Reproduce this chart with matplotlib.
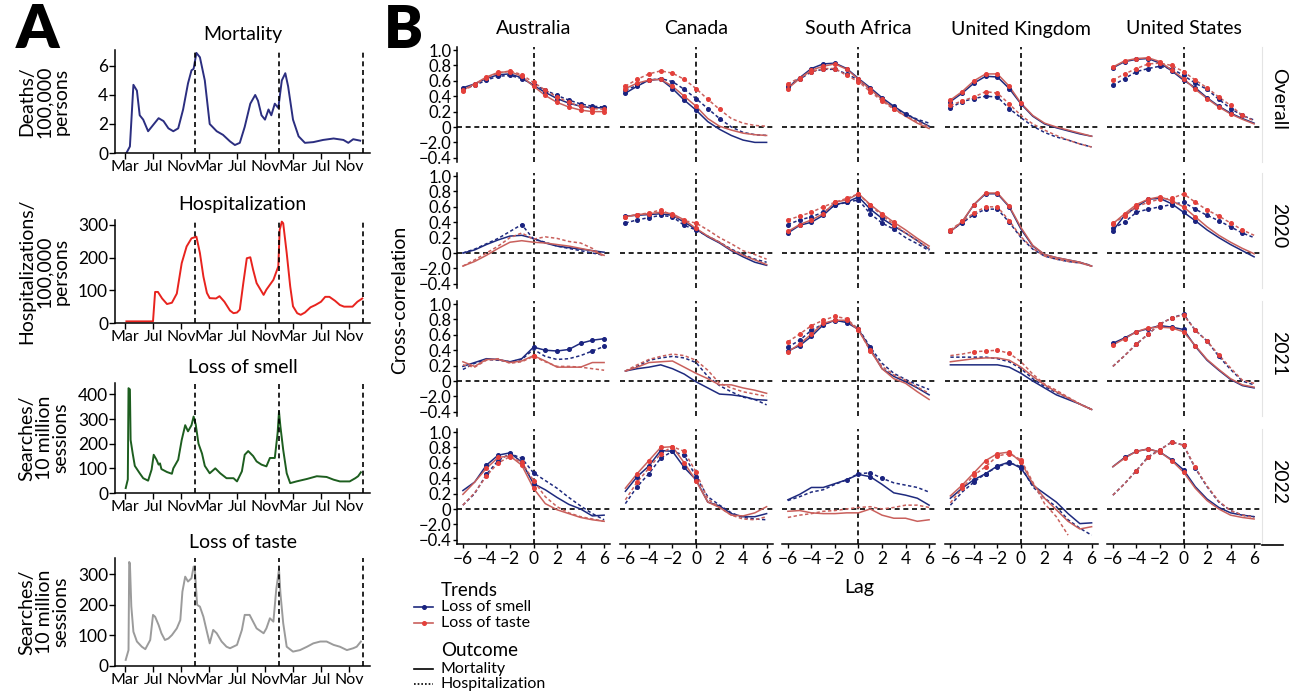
import numpy as np
import matplotlib
matplotlib.use("Agg")
import matplotlib.pyplot as plt
from matplotlib.lines import Line2D

plt.rcParams['font.family'] = ['Lato', 'DejaVu Sans']

W, H = 1294, 691

# ---------------- panel A data (x = months since Jan 2020) ----------------
mort_month = [2.2, 2.7, 3.2, 3.7, 4.1, 4.6, 5.3, 5.8, 6.8, 7.5, 8.2, 8.9, 9.6, 10.3, 11.0, 11.5, 11.8,
              12.2, 12.7, 13.4, 14.1, 15.1, 16.0, 17.0, 17.7, 18.4, 19.1, 19.9, 20.6, 21.0, 21.5, 22.0,
              22.5, 22.9, 23.4, 23.9, 24.4, 24.9, 25.3, 26.0, 26.8, 27.7, 28.9, 30.3, 31.8, 33.2, 33.9,
              34.6, 35.6]
mort_val = [0, 0.45, 4.7, 4.3, 2.6, 2.3, 1.5, 1.8, 2.4, 2.2, 1.7, 1.5, 1.7, 3.0, 4.8, 5.7, 5.8,
            6.9, 6.6, 5.0, 2.0, 1.5, 1.25, 0.8, 0.55, 0.7, 1.8, 3.4, 4.0, 3.6, 2.6, 2.3,
            3.0, 2.6, 3.4, 3.1, 5.0, 5.5, 4.6, 2.3, 1.15, 0.7, 0.75, 0.9, 1.0, 0.9, 0.7,
            0.95, 0.85]

hosp_month = [2.2, 6.0, 6.3, 6.7, 7.3, 8.0, 8.7, 9.4, 10.1, 10.8, 11.5, 12.2, 12.7, 13.2, 13.7, 14.1,
              15.0, 15.5, 16.2, 17.0, 17.5, 18.0, 18.4, 18.9, 19.4, 19.9, 20.3, 20.8, 21.8, 22.2, 23.2,
              23.9, 24.1, 24.4, 24.6, 25.1, 25.6, 26.0, 26.6, 27.1, 27.7, 28.5, 29.2, 30.0, 30.6, 31.2,
              32.0, 32.7, 33.3, 34.5, 35.2, 35.9]
hosp_val = [5, 5, 95, 95, 75, 58, 62, 90, 183, 234, 259, 264, 214, 142, 92, 76,
            75, 82, 65, 38, 30, 32, 41, 122, 198, 201, 163, 122, 86, 102, 132,
            173, 285, 310, 305, 214, 112, 51, 30, 25, 32, 48, 55, 65, 80, 80,
            68, 55, 50, 50, 65, 75]

smell_month = [2.1, 2.4, 2.5, 2.7, 2.8, 3.1, 3.4, 4.1, 4.6, 5.3, 5.8, 6.1, 6.5, 6.8, 7.0, 7.2, 8.0,
               8.7, 8.9, 9.6, 10.1, 10.6, 11.0, 11.5, 11.8, 12.1, 12.5, 13.0, 13.4, 14.1, 14.9, 15.6,
               16.5, 17.5, 18.0, 18.7, 19.1, 19.6, 20.3, 20.8, 21.5, 22.2, 22.7, 23.4, 23.8, 24.0,
               24.2, 24.6, 25.1, 25.6, 26.5, 28.0, 29.4, 30.8, 31.8, 32.7, 34.1, 34.9, 35.3, 35.7]
smell_val = [20, 55, 425, 420, 215, 160, 110, 80, 60, 50, 95, 155, 135, 115, 120, 97, 85,
             78, 100, 135, 215, 275, 250, 275, 310, 278, 200, 160, 110, 80, 100, 80,
             60, 60, 47, 88, 155, 170, 150, 128, 115, 108, 142, 142, 243, 330,
             270, 175, 80, 40, 47, 57, 68, 65, 54, 47, 47, 60, 68, 84]

taste_month = [2.1, 2.5, 2.6, 2.7, 2.9, 3.2, 3.7, 4.4, 4.9, 5.6, 6.0, 6.3, 6.8, 7.2, 7.7, 8.2, 8.7,
               9.4, 9.9, 10.2, 10.6, 11.0, 11.5, 11.8, 12.0, 12.3, 12.7, 13.2, 13.7, 14.1, 14.6, 15.1,
               15.8, 16.5, 17.0, 18.0, 18.7, 19.1, 19.8, 20.3, 20.8, 21.8, 22.2, 22.7, 23.2, 23.6,
               24.0, 24.2, 24.6, 25.1, 26.0, 27.0, 28.0, 28.9, 29.9, 30.8, 31.8, 32.7, 33.7, 34.6,
               35.1, 35.7]
taste_val = [20, 52, 340, 335, 195, 112, 80, 63, 55, 85, 167, 161, 134, 107, 85, 90, 101,
             123, 150, 243, 292, 276, 287, 325, 309, 200, 194, 161, 112, 74, 118, 107,
             80, 63, 58, 69, 118, 167, 167, 145, 123, 107, 123, 156, 145, 249,
             316, 238, 140, 63, 47, 52, 63, 74, 80, 80, 69, 63, 52, 58,
             63, 80]

month_ticks = [2, 6, 10, 14, 18, 22, 26, 30, 34]
month_labels = ["Mar", "Jul", "Nov"] * 3
year_breaks = [12, 24, 36]

# ---------------- panel B data ----------------
countries = ["Australia", "Canada", "South Africa", "United Kingdom", "United States"]
periods = ["Overall", "2020", "2021", "2022"]
lags = [-6, -5, -4, -3, -2, -1, 0, 1, 2, 3, 4, 5, 6]
nan = np.nan

# [period][country] -> 13 values at lags -6..6
smell_mort = [
    [[0.51, 0.56, 0.63, 0.68, 0.69, 0.64, 0.54, 0.45, 0.37, 0.31, 0.27, 0.25, 0.25],
     [0.44, 0.53, 0.61, 0.62, 0.50, 0.35, 0.22, 0.07, -0.03, -0.11, -0.17, -0.20, -0.20],
     [0.51, 0.64, 0.76, 0.82, 0.83, 0.76, 0.63, 0.51, 0.38, 0.27, 0.17, 0.09, 0.01],
     [0.33, 0.44, 0.57, 0.66, 0.65, 0.50, 0.30, 0.14, 0.04, -0.01, -0.05, -0.09, -0.12],
     [0.77, 0.85, 0.88, 0.89, 0.83, 0.73, 0.61, 0.51, 0.38, 0.27, 0.18, 0.11, 0.05]],
    [[0.00, 0.04, 0.11, 0.17, 0.22, 0.23, 0.19, 0.13, 0.09, 0.07, 0.05, 0.03, 0.01],
     [0.48, 0.49, 0.50, 0.51, 0.49, 0.40, 0.31, 0.21, 0.13, 0.03, -0.05, -0.12, -0.16],
     [0.26, 0.36, 0.40, 0.49, 0.63, 0.66, 0.73, 0.57, 0.45, 0.35, 0.26, 0.16, 0.05],
     [0.28, 0.40, 0.63, 0.77, 0.77, 0.60, 0.31, 0.09, -0.02, -0.06, -0.09, -0.12, -0.17],
     [0.29, 0.49, 0.60, 0.70, 0.71, 0.64, 0.53, 0.42, 0.30, 0.20, 0.11, 0.03, -0.05]],
    [[0.19, 0.24, 0.29, 0.28, 0.25, 0.29, 0.44, 0.40, 0.39, 0.41, 0.49, 0.53, 0.55],
     [0.13, 0.16, 0.18, 0.21, 0.16, 0.09, -0.01, -0.09, -0.17, -0.18, -0.20, -0.24, -0.25],
     [0.39, 0.46, 0.58, 0.73, 0.79, 0.76, 0.67, 0.42, 0.16, 0.06, -0.01, -0.09, -0.18],
     [0.21, 0.21, 0.21, 0.21, 0.21, 0.18, 0.10, 0.00, -0.09, -0.18, -0.24, -0.30, -0.37],
     [0.49, 0.56, 0.64, 0.68, 0.72, 0.70, 0.67, 0.45, 0.27, 0.14, 0.02, -0.06, -0.09]],
    [[0.24, 0.35, 0.57, 0.70, 0.73, 0.61, 0.33, 0.25, 0.15, 0.06, 0.00, -0.09, -0.08],
     [0.23, 0.42, 0.56, 0.76, 0.75, 0.54, 0.38, 0.09, 0.04, -0.06, -0.10, -0.10, -0.06],
     [0.12, 0.19, 0.28, 0.28, 0.33, 0.38, 0.45, 0.42, 0.32, 0.21, 0.18, 0.14, 0.05],
     [0.14, 0.27, 0.38, 0.46, 0.56, 0.61, 0.53, 0.31, 0.20, 0.09, -0.06, -0.19, -0.18],
     [0.55, 0.67, 0.75, 0.78, 0.74, 0.64, 0.51, 0.29, 0.13, 0.02, -0.05, -0.08, -0.10]],
]
smell_hosp = [
    [[0.50, 0.54, 0.61, 0.66, 0.67, 0.63, 0.55, 0.48, 0.41, 0.35, 0.30, 0.27, 0.26],
     [0.48, 0.54, 0.61, 0.63, 0.59, 0.49, 0.37, 0.24, 0.11, 0.00, -0.07, -0.10, -0.11],
     [0.53, 0.62, 0.72, 0.75, 0.75, 0.69, 0.61, 0.49, 0.36, 0.25, 0.17, 0.10, 0.05],
     [0.25, 0.33, 0.37, 0.40, 0.39, 0.24, 0.12, 0.01, -0.07, -0.13, -0.17, -0.22, -0.26],
     [0.54, 0.63, 0.72, 0.76, 0.79, 0.76, 0.67, 0.57, 0.49, 0.36, 0.24, 0.15, 0.09]],
    [[0.00, 0.05, 0.12, 0.19, 0.28, 0.37, 0.18, 0.14, 0.09, 0.06, 0.03, 0.00, -0.03],
     [0.39, 0.43, 0.46, 0.49, 0.47, 0.36, 0.30, 0.22, 0.14, 0.05, -0.02, -0.08, -0.12],
     [0.37, 0.43, 0.47, 0.53, 0.62, 0.66, 0.69, 0.51, 0.39, 0.31, 0.20, 0.12, 0.03],
     [0.29, 0.39, 0.50, 0.57, 0.57, 0.40, 0.20, 0.05, -0.04, -0.08, -0.11, -0.13, -0.16],
     [0.32, 0.40, 0.53, 0.57, 0.60, 0.63, 0.66, 0.57, 0.49, 0.42, 0.34, 0.26, 0.20]],
    [[0.15, 0.23, 0.28, 0.27, 0.25, 0.28, 0.41, 0.32, 0.28, 0.29, 0.33, 0.39, 0.45],
     [0.13, 0.19, 0.27, 0.30, 0.32, 0.30, 0.24, 0.06, -0.06, -0.14, -0.21, -0.24, -0.31],
     [0.44, 0.53, 0.66, 0.74, 0.78, 0.78, 0.68, 0.44, 0.23, 0.10, 0.02, -0.05, -0.11],
     [0.31, 0.31, 0.31, 0.31, 0.29, 0.25, 0.16, 0.03, -0.07, -0.15, -0.22, -0.30, -0.37],
     [0.19, 0.33, 0.48, 0.61, 0.74, 0.82, 0.87, 0.66, 0.52, 0.32, 0.15, 0.00, -0.05]],
    [[0.05, 0.20, 0.45, 0.63, 0.72, 0.66, 0.47, 0.37, 0.27, 0.15, 0.04, -0.06, -0.14],
     [0.07, 0.29, 0.46, 0.66, 0.75, 0.70, 0.42, 0.16, 0.05, -0.05, -0.11, -0.13, -0.14],
     [0.11, 0.16, 0.22, 0.25, 0.32, 0.38, 0.46, 0.47, 0.40, 0.34, 0.31, 0.28, 0.22],
     [0.05, 0.22, 0.35, 0.46, 0.55, 0.60, 0.55, 0.29, 0.14, 0.03, -0.14, -0.25, -0.34],
     [0.18, 0.33, 0.50, 0.68, 0.77, 0.87, 0.83, 0.53, 0.29, 0.09, -0.02, -0.08, -0.10]],
]
taste_mort = [
    [[0.48, 0.56, 0.65, 0.71, 0.72, 0.66, 0.53, 0.41, 0.32, 0.26, 0.22, 0.20, 0.20],
     [0.50, 0.57, 0.61, 0.62, 0.53, 0.40, 0.27, 0.11, 0.01, -0.04, -0.08, -0.10, -0.11],
     [0.50, 0.63, 0.74, 0.79, 0.82, 0.75, 0.62, 0.49, 0.36, 0.24, 0.14, 0.05, -0.02],
     [0.35, 0.46, 0.60, 0.69, 0.69, 0.53, 0.31, 0.15, 0.05, 0.00, -0.04, -0.08, -0.12],
     [0.78, 0.86, 0.89, 0.90, 0.85, 0.74, 0.63, 0.49, 0.37, 0.26, 0.17, 0.10, 0.04]],
    [[-0.17, -0.11, -0.03, 0.06, 0.14, 0.16, 0.14, 0.13, 0.11, 0.09, 0.06, 0.03, -0.03],
     [0.47, 0.50, 0.51, 0.53, 0.51, 0.43, 0.32, 0.22, 0.14, 0.04, -0.03, -0.09, -0.15],
     [0.28, 0.37, 0.43, 0.51, 0.66, 0.69, 0.77, 0.63, 0.51, 0.40, 0.30, 0.19, 0.09],
     [0.28, 0.41, 0.63, 0.78, 0.78, 0.61, 0.33, 0.10, -0.02, -0.06, -0.09, -0.12, -0.17],
     [0.38, 0.51, 0.63, 0.70, 0.73, 0.68, 0.60, 0.47, 0.34, 0.23, 0.14, 0.06, -0.01]],
    [[0.25, 0.19, 0.28, 0.28, 0.24, 0.26, 0.33, 0.26, 0.18, 0.18, 0.18, 0.24, 0.24],
     [0.13, 0.18, 0.24, 0.25, 0.26, 0.18, 0.10, 0.03, -0.05, -0.05, -0.09, -0.12, -0.16],
     [0.38, 0.48, 0.61, 0.75, 0.79, 0.79, 0.66, 0.40, 0.16, 0.03, -0.03, -0.14, -0.24],
     [0.25, 0.27, 0.29, 0.30, 0.30, 0.27, 0.18, 0.06, -0.05, -0.14, -0.22, -0.30, -0.37],
     [0.47, 0.55, 0.64, 0.69, 0.70, 0.69, 0.64, 0.46, 0.28, 0.15, 0.03, -0.05, -0.08]],
    [[0.19, 0.35, 0.53, 0.67, 0.69, 0.57, 0.27, 0.07, -0.01, -0.06, -0.11, -0.14, -0.16],
     [0.27, 0.46, 0.63, 0.80, 0.81, 0.60, 0.37, 0.09, 0.02, -0.08, -0.09, -0.05, 0.03],
     [-0.03, -0.02, -0.05, -0.06, -0.06, -0.05, -0.05, 0.00, -0.08, -0.12, -0.12, -0.16, -0.14],
     [0.17, 0.31, 0.47, 0.63, 0.72, 0.74, 0.61, 0.33, 0.14, -0.01, -0.16, -0.26, -0.23],
     [0.55, 0.66, 0.75, 0.78, 0.74, 0.63, 0.48, 0.27, 0.11, 0.00, -0.08, -0.11, -0.13]],
]
taste_hosp = [
    [[0.47, 0.55, 0.64, 0.70, 0.73, 0.68, 0.58, 0.48, 0.39, 0.32, 0.27, 0.24, 0.23],
     [0.53, 0.62, 0.69, 0.73, 0.70, 0.62, 0.50, 0.36, 0.23, 0.11, 0.05, 0.02, 0.01],
     [0.56, 0.64, 0.72, 0.76, 0.76, 0.67, 0.59, 0.46, 0.34, 0.23, 0.14, 0.07, 0.00],
     [0.28, 0.34, 0.39, 0.46, 0.44, 0.30, 0.15, 0.04, -0.04, -0.11, -0.17, -0.22, -0.26],
     [0.61, 0.69, 0.76, 0.82, 0.83, 0.80, 0.72, 0.61, 0.51, 0.39, 0.28, 0.15, 0.08]],
    [[-0.17, -0.09, 0.00, 0.09, 0.20, 0.26, 0.18, 0.21, 0.19, 0.15, 0.13, 0.06, -0.05],
     [0.47, 0.50, 0.52, 0.56, 0.49, 0.42, 0.39, 0.30, 0.20, 0.12, 0.03, -0.02, -0.08],
     [0.43, 0.48, 0.53, 0.60, 0.66, 0.71, 0.77, 0.62, 0.49, 0.37, 0.26, 0.16, 0.06],
     [0.30, 0.41, 0.52, 0.60, 0.60, 0.42, 0.21, 0.06, -0.04, -0.08, -0.11, -0.13, -0.17],
     [0.39, 0.48, 0.60, 0.66, 0.70, 0.71, 0.77, 0.66, 0.56, 0.48, 0.39, 0.30, 0.23]],
    [[0.21, 0.18, 0.27, 0.29, 0.23, 0.25, 0.32, 0.25, 0.19, 0.19, 0.18, 0.16, 0.14],
     [0.13, 0.21, 0.28, 0.32, 0.35, 0.33, 0.27, 0.14, -0.03, -0.09, -0.14, -0.17, -0.20],
     [0.51, 0.61, 0.72, 0.79, 0.84, 0.81, 0.67, 0.39, 0.19, 0.08, 0.01, -0.08, -0.16],
     [0.33, 0.35, 0.38, 0.39, 0.40, 0.36, 0.25, 0.09, -0.04, -0.12, -0.21, -0.30, -0.37],
     [0.19, 0.33, 0.48, 0.61, 0.74, 0.82, 0.86, 0.66, 0.52, 0.34, 0.17, 0.01, -0.03]],
    [[0.05, 0.21, 0.43, 0.60, 0.68, 0.61, 0.37, 0.16, 0.03, -0.05, -0.10, -0.13, -0.16],
     [0.12, 0.35, 0.53, 0.72, 0.81, 0.75, 0.48, 0.13, 0.02, -0.08, -0.13, -0.14, -0.10],
     [-0.11, -0.08, -0.06, -0.03, -0.02, 0.00, 0.02, 0.03, 0.00, 0.02, 0.05, 0.05, 0.02],
     [0.08, 0.27, 0.44, 0.55, 0.69, 0.72, 0.64, 0.35, 0.07, -0.10, -0.34, nan, nan],
     [0.18, 0.33, 0.50, 0.67, 0.77, 0.87, 0.83, 0.54, 0.30, 0.10, -0.02, -0.08, -0.11]],
]

# lag range (lo, hi) that carries point markers, [period][country]
sig_smell_mort = [
    [(-6, 6), (-6, 0), (-6, 4), (-6, 0), (-6, 4)],
    [None, (-6, 0), (-6, 3), (-6, -1), (-6, 1)],
    [(0, 6), None, (-6, 1), None, (-6, 1)],
    [(-4, 0), (-5, 0), (-1, 1), (-4, 0), (-5, 0)],
]
sig_smell_hosp = [
    [(-6, 6), (-6, 2), (-6, 3), (-6, -1), (-6, 5)],
    [(-1, -1), (-6, 0), (-6, 3), (-6, -1), (-6, 5)],
    [(5, 6), None, (-6, 1), None, (-4, 3)],
    [(-4, 0), (-5, 0), (1, 2), (-4, 0), (-4, 1)],
]
sig_taste_mort = [
    [(-6, 6), (-6, 0), (-6, 3), (-6, 0), (-6, 4)],
    [None, (-6, 0), (-6, 3), (-6, -1), (-6, 1)],
    [(0, 0), None, (-6, 1), None, (-6, 1)],
    [(-4, 0), (-5, 0), None, (-5, 0), (-5, 0)],
]
sig_taste_hosp = [
    [(-6, 6), (-6, 2), (-6, 3), (-6, -1), (-6, 5)],
    [None, (-6, 0), (-6, 3), (-6, -1), (-6, 5)],
    [(0, 0), None, (-6, 1), (-4, -1), (-4, 3)],
    [(-4, 0), (-5, 0), None, (-5, 0), (-4, 1)],
]

yticks_b = [-0.4, -0.2, 0, 0.2, 0.4, 0.6, 0.8, 1.0]
ytick_labels_b = ["\u22120.4", "\u22122.0", "0", "0.2", "0.4", "0.6", "0.8", "1.0"]
xticks_b = [-6, -4, -2, 0, 2, 4, 6]
xtick_labels_b = ["\u22126", "\u22124", "\u22122", "0", "2", "4", "6"]

NAVY = "#1E2A7E"
NAVY_M = "#1A2380"
RED = "#C9605C"
RED_M = "#E4403B"
DASH = (0, (2.2, 1.6))
REFDASH = (0, (3, 2.2))

fig = plt.figure(figsize=(W / 100, H / 100), dpi=100)


def axes_px(left, top, width, height):
    return fig.add_axes([left / W, 1 - (top + height) / H, width / W, height / H])


def ftext(x, y, s, **kw):
    fig.text(x / W, 1 - y / H, s, **kw)


# ---------------- panel A ----------------
ftext(16, 30, "A", fontsize=44, fontweight="heavy", va="center", ha="left")

series_a = [
    (mort_month, mort_val, "#2B2E80", "Mortality", "Deaths/\n100,000\npersons", 7.1, [0, 2, 4, 6], 50, 103),
    (hosp_month, hosp_val, "#E8231E", "Hospitalization", "Hospitalizations/\n100,000\npersons", 315,
     [0, 100, 200, 300], 220, 103),
    (smell_month, smell_val, "#1D5E1F", "Loss of smell", "Searches/\n10 million\nsessions", 446,
     [0, 100, 200, 300, 400], 383, 110),
    (taste_month, taste_val, "#9B9B9B", "Loss of taste", "Searches/\n10 million\nsessions", 353,
     [0, 100, 200, 300], 558, 108),
]
for t, v, col, title, ylab, ytop, yt, top, h in series_a:
    ax = axes_px(115, top, 255, h)
    ax.plot(t, v, color=col, lw=1.4)
    for xb in year_breaks:
        ax.axvline(xb, color="black", ls=REFDASH, lw=1.2)
    ax.set_xlim(0.57, 37)
    ax.set_ylim(0, ytop)
    ax.set_yticks(yt)
    ax.set_xticks(month_ticks)
    ax.set_xticklabels(month_labels)
    for s in ["top", "right"]:
        ax.spines[s].set_visible(False)
    for s in ["left", "bottom"]:
        ax.spines[s].set_linewidth(1.1)
    ax.tick_params(axis="y", labelsize=12.5, length=4, width=1, pad=1)
    ax.tick_params(axis="x", labelsize=11.5, length=4, width=1, pad=1)
    ax.set_title(title, fontsize=14, pad=7)
    ftext(44, top + h / 2, ylab, rotation=90, ha="center", va="center", fontsize=14, linespacing=1.0)

# ---------------- panel B ----------------
ftext(384, 30, "B", fontsize=42, fontweight="heavy", va="center", ha="left")

col_left = [457, 619.5, 782, 944.5, 1107]
row_top = [47, 173, 301, 429]
pw, ph = 153, 115

series_b = [
    (smell_mort, sig_smell_mort, NAVY, NAVY_M, "-"),
    (smell_hosp, sig_smell_hosp, NAVY, NAVY_M, DASH),
    (taste_mort, sig_taste_mort, RED, RED_M, "-"),
    (taste_hosp, sig_taste_hosp, RED, RED_M, DASH),
]
lag_arr = np.array(lags)

for i, per in enumerate(periods):
    for j, country in enumerate(countries):
        ax = axes_px(col_left[j], row_top[i], pw, ph)
        ax.axhline(0, color="black", ls=REFDASH, lw=1.2, zorder=1)
        ax.axvline(0, color="black", ls=REFDASH, lw=1.2, zorder=1)
        for vals, sig, lc, mc, ls in series_b:
            y = np.array(vals[i][j], dtype=float)
            ax.plot(lag_arr, y, color=lc, ls=ls, lw=1.1, zorder=2)
            rng = sig[i][j]
            if rng is not None:
                m = (lag_arr >= rng[0]) & (lag_arr <= rng[1])
                ax.plot(lag_arr[m], y[m], ls="none", marker="o", ms=2.6, color=mc, zorder=3)
        ax.set_xlim(-6.5, 6.5)
        ax.set_ylim(-0.455, 1.04)
        for s in ["top", "right", "left", "bottom"]:
            ax.spines[s].set_visible(False)
        if j == 0:
            ax.spines["left"].set_visible(True)
            ax.spines["left"].set_linewidth(1.1)
            ax.set_yticks(yticks_b)
            ax.set_yticklabels(ytick_labels_b)
            ax.tick_params(axis="y", labelsize=12, length=3, width=1, pad=1)
        else:
            ax.set_yticks([])
        if i == 3:
            ax.spines["bottom"].set_visible(True)
            ax.spines["bottom"].set_linewidth(1.1)
            ax.set_xticks(xticks_b)
            ax.set_xticklabels(xtick_labels_b)
            ax.tick_params(axis="x", labelsize=12.5, length=3, width=1, pad=2)
        else:
            ax.set_xticks([])
        if i == 0:
            ax.set_title(country, fontsize=14, pad=9)
    # facet strip on the right
    fig.add_artist(Line2D([1262 / W, 1262 / W], [1 - row_top[i] / H, 1 - (row_top[i] + ph) / H],
                          color="#e4e4e4", lw=0.8))
    ftext(1279, row_top[i] + ph / 2 - 5, per, rotation=270, ha="center", va="center", fontsize=14)

fig.add_artist(Line2D([1262 / W, 1283 / W], [1 - 545 / H, 1 - 545 / H], color="black", lw=1.2))

ftext(400, 300, "Cross-correlation", rotation=90, ha="center", va="center", fontsize=14)
ftext(859, 588, "Lag", ha="center", va="center", fontsize=14)

# ---------------- legend ----------------
ftext(441, 590, "Trends", ha="left", va="center", fontsize=13.5)
legend_rows = [
    (607, NAVY, NAVY_M, "-", "o", "Loss of smell"),
    (623, RED, RED_M, "-", "o", "Loss of taste"),
    (669, "black", None, "-", None, "Mortality"),
    (684, "black", None, (0, (1, 1.2)), None, "Hospitalization"),
]
ftext(441, 651, "Outcome", ha="left", va="center", fontsize=13.5)
for y, lc, mc, ls, mk, lab in legend_rows:
    yy = 1 - y / H
    fig.add_artist(Line2D([414 / W, 433 / W], [yy, yy], color=lc, ls=ls, lw=1.2))
    if mk:
        fig.add_artist(Line2D([423.5 / W], [yy], color=mc, marker=mk, ms=2.6, ls="none"))
    ftext(441, y, lab, ha="left", va="center", fontsize=11.5)

fig.savefig("out.png", dpi=100)
